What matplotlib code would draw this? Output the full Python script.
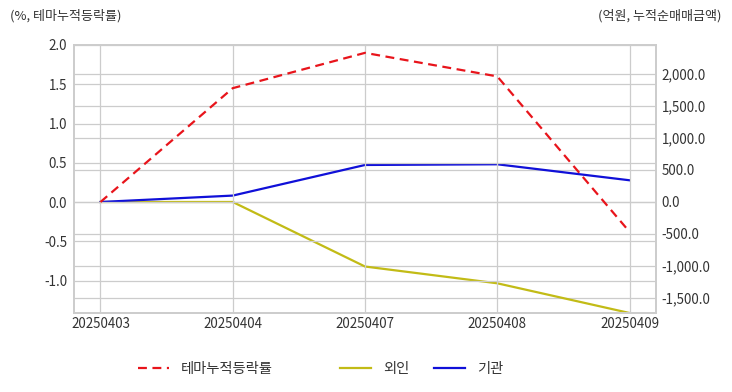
import matplotlib
matplotlib.use('Agg')
import matplotlib.pyplot as plt
from matplotlib.ticker import FuncFormatter

plt.rcParams['font.family'] = ['Noto Sans CJK KR', 'DejaVu Sans']
plt.rcParams['axes.unicode_minus'] = False

# 데이터
dates = ['20250403', '20250404', '20250407', '20250408', '20250409']
theme_rate = [0.0, 1.45, 1.90, 1.60, -0.38]      # 테마누적등락률 (%)
foreign = [0.0, 0.0, -1008.0, -1270.0, -1734.0]  # 외인 (억원)
inst = [0.0, 100.0, 578.0, 589.0, 339.0]         # 기관 (억원)

txt = '#333333'
gridc = '#cccccc'

fig = plt.figure(figsize=(7.32, 3.92), dpi=100)
ax = fig.add_axes([74/732, 1-313/392, (656-74)/732, (313-45)/392])
ax2 = ax.twinx()

x = list(range(len(dates)))
l1, = ax.plot(x, theme_rate, color='#e8141b', ls=(0, (4, 2.5)), lw=1.6, label='테마누적등락률')
l2, = ax2.plot(x, foreign, color='#c2bb16', lw=1.6, label='외인')
l3, = ax2.plot(x, inst, color='#1010d8', lw=1.6, label='기관')
ax.set_zorder(ax2.get_zorder() + 1)
ax.patch.set_visible(False)

ax.set_xlim(-0.2, 4.2)
ax.set_ylim(-1.414, 2.0)
ax.set_yticks([-1.0, -0.5, 0.0, 0.5, 1.0, 1.5, 2.0])
ax.yaxis.set_major_formatter(FuncFormatter(lambda v, p: f'{v:.1f}'))
ax2.set_ylim(-1734, 2452)
ax2.set_yticks([-1500, -1000, -500, 0, 500, 1000, 1500, 2000])
ax2.yaxis.set_major_formatter(FuncFormatter(lambda v, p: f'{v:,.1f}'))
ax.set_xticks(x)
ax.set_xticklabels(dates)

for a in (ax, ax2):
    a.tick_params(length=0, colors=txt, labelsize=9.6)
    a.grid(True, color=gridc, lw=0.9)
    for s in a.spines.values():
        s.set_color(gridc)
        s.set_linewidth(1.2)
ax2.grid(True, axis='y', color=gridc, lw=0.9)
ax2.grid(False, axis='x')
ax.tick_params(axis='y', pad=5)
ax2.tick_params(axis='y', pad=4)
ax.tick_params(axis='x', pad=3)

fig.text(10/732, 1-16/392, '(%, 테마누적등락률)', fontsize=9.4, color=txt, va='center', ha='left')
fig.text(722/732, 1-16/392, '(억원, 누적순매매금액)', fontsize=9.4, color=txt, va='center', ha='right')

# 범례: 항목별 위치
for h, x0 in [(l1, 138), (l2, 340), (l3, 434)]:
    fig.legend(handles=[h], loc='center left', bbox_to_anchor=(x0/732, 1-369/392),
               frameon=False, fontsize=10.3, labelcolor=txt, borderpad=0, borderaxespad=0,
               handlelength=2.2, handletextpad=0.8)

fig.savefig('out.png', dpi=100)
